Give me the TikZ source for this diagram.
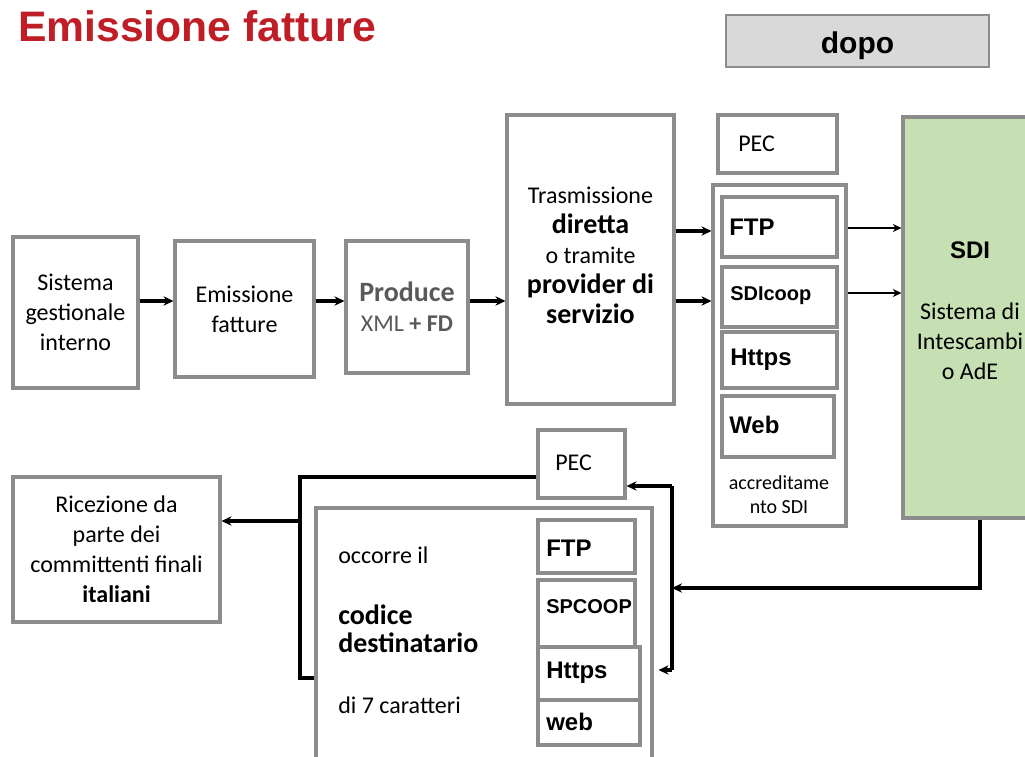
\documentclass[tikz,border=0pt]{standalone}
\usepackage{fontspec}
\setmainfont{Carlito}
\newfontfamily\arialf{Liberation Sans}
\usetikzlibrary{arrows.meta,calc}
\definecolor{titlered}{RGB}{192,30,38}
\definecolor{boxgray}{RGB}{140,140,140}
\definecolor{sdigreen}{RGB}{198,224,180}
\definecolor{dopogray}{RGB}{217,217,217}
\definecolor{prodgray}{RGB}{89,89,89}
\newcommand\bigbf[1]{{\bfseries\fontsize{21}{22.5}\selectfont #1}}
\begin{document}
\begin{tikzpicture}[x=0.75pt,y=-0.75pt,
  box/.style={draw=boxgray, line width=2.3pt, inner sep=0pt, align=center, font=\fontsize{18}{22.5}\selectfont},
  bsz/.style 2 args={minimum width=#1*0.75pt, minimum height=#2*0.75pt},
  arr/.style={-{Stealth[length=7.5pt,width=7pt]}, line width=2.6pt},
  tarr/.style={-{Stealth[length=6.5pt,width=6pt]}, line width=1.7pt},
  conn/.style={line width=2.6pt},
  lbl/.style={inner sep=0pt, font=\fontsize{18}{22.5}\selectfont},
  albl/.style={inner sep=0pt, font=\arialf\bfseries\fontsize{18}{21}\selectfont},
  slbl/.style={inner sep=0pt, font=\arialf\bfseries\fontsize{15}{18}\selectfont},
]
\clip (0,0) rectangle (1025,757);
\fill[white] (0,0) rectangle (1025,757);

% title and tag
\node[anchor=base west, inner sep=0pt, text=titlered, font=\arialf\bfseries\fontsize{32}{36}\selectfont] (title) at (18,41.5) {Emissione fatture};
\node[draw=boxgray, fill=dopogray, line width=1.2pt, bsz={263}{52}, inner sep=0pt] (dopo) at (857.5,41) {};
\node[inner sep=0pt, anchor=base, font=\arialf\bfseries\fontsize{22.5}{24}\selectfont] (dopot) at (857.5,53) {dopo};

% upper chain
\node[box, bsz={125}{151}] (b1) at (75.5,312.5) {Sistema\\gestionale\\interno};
\node[box, bsz={139}{136}] (b2) at (244.5,309) {Emissione\\fatture};
\node[box, bsz={122}{132}, text=prodgray] (b3) at (407,307) {\bigbf{Produce}\\XML {\bfseries + FD}};
\node[box, bsz={167}{289}] (b4) at (590.5,259.5) {};
\node[lbl, align=center] (b4t) at (590.5,255.5) {Trasmissione\\\bigbf{diretta}\\o tramite\\\bigbf{provider di}\\\bigbf{servizio}};

% channels box
\node[box, bsz={119}{58}] (pec1) at (777.5,144) {};
\node[lbl, anchor=west] (pec1t) at (738,144) {PEC};
\node[box, bsz={133}{341}] (acc) at (779.5,355.5) {};
\node[box, bsz={115}{60}] (ftp1) at (779.5,227) {};
\node[box, bsz={115}{60}] (sdic) at (779.5,297) {};
\node[box, bsz={115}{56}] (https1) at (779.5,360) {};
\node[box, bsz={112}{61}] (web1) at (778,426.5) {};
\node[albl, anchor=west] (ftp1t) at (729,227) {FTP};
\node[slbl, anchor=west] (sdict) at (730,296) {SDIcoop};
\node[albl, anchor=west] (https1t) at (730,360) {Https};
\node[albl, anchor=west] (web1t) at (729,425) {Web};
\node[lbl, align=center, font=\fontsize{15}{18}\selectfont] (acct) at (779,495) {accreditame\\nto SDI};

% SDI
\node[box, fill=sdigreen, bsz={137}{401}] (sdi) at (971.5,317.5) {};
\node[albl] (sdititle) at (970,250) {SDI};
\node[lbl, align=center] (sdit) at (970,341) {Sistema di\\Intescambi\\o AdE};

% lower part
\node[box, bsz={207}{145}] (ric) at (116.5,549.5) {Ricezione da\\parte dei\\committenti finali\\\textbf{italiani}};
\node[box, bsz={87}{68}] (pec2) at (581.5,464) {};
\node[lbl, anchor=west] (pec2t) at (555,463) {PEC};
\node[box, bsz={336}{267}] (low) at (484,641.5) {};
\node[box, bsz={97}{53}] (ftp2) at (586.5,546.5) {};
\node[box, bsz={97}{67}] (spc) at (586.5,613.5) {};
\node[box, bsz={102}{53}] (https2) at (589,673.5) {};
\node[box, bsz={102}{45}] (web2) at (589,722.5) {};
\node[albl, anchor=west] (ftp2t) at (546,548) {FTP};
\node[slbl, anchor=west] (spct) at (546,607) {SPCOOP};
\node[albl, anchor=west] (https2t) at (546,673) {Https};
\node[albl, anchor=west] (web2t) at (546,722) {web};
\node[lbl, anchor=west] (occ) at (338,555) {occorre il};
\node[lbl, anchor=west, align=left, font=\bfseries\fontsize{21}{21}\selectfont] (cod) at (338,629) {codice\\destinatario};
\node[lbl, anchor=west] (di7) at (338,705) {di 7 caratteri};

% connectors upper
\coordinate (r1) at (0,301);
\draw[arr] (b1.east|-r1) -- (b2.west|-r1);
\draw[arr] (b2.east|-r1) -- (b3.west|-r1);
\draw[arr] (b3.east|-r1) -- (b4.west|-r1);
\coordinate (ya) at (0,231);
\coordinate (yb) at (0,301);
\draw[arr] (b4.east|-ya) -- (acc.west|-ya);
\draw[arr] (b4.east|-yb) -- (acc.west|-yb);
\coordinate (yc) at (0,228);
\coordinate (yd) at (0,293);
\draw[tarr] (acc.east|-yc) -- (sdi.west|-yc);
\draw[tarr] (acc.east|-yd) -- (sdi.west|-yd);

% connectors lower right
\coordinate (sb) at (980,588);
\coordinate (vj) at (672,588);
\draw[arr] (sdi.south-|sb) -- (sb) -- (vj);
\coordinate (j1) at (672,486);
\coordinate (j2) at (672,670);
\draw[conn] (j1) -- (j2);
\draw[arr] (j1) -- (pec2.east|-j1);
\draw[arr] (j2) -- ([xshift=3.75pt]low.east|-j2);

% connectors lower left
\coordinate (k1) at (300,477);
\coordinate (k2) at (300,678);
\coordinate (k3) at (300,521);
\draw[conn] (pec2.west|-k1) -- (k1) -- (k2) -- (low.west|-k2);
\draw[arr] (k3) -- (ric.east|-k3);
\end{tikzpicture}
\end{document}
